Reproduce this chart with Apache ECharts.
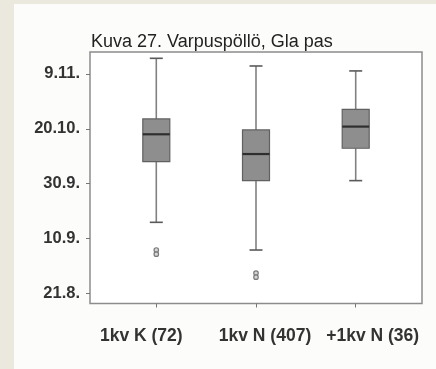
<!DOCTYPE html>
<html>
<head>
<meta charset="utf-8">
<script src="https://cdn.jsdelivr.net/npm/echarts@6/dist/echarts.min.js"></script>
<style>
  html, body { margin: 0; padding: 0; background: #ebe9dd; }
  #panel { position: absolute; left: 14px; top: 4px; width: 422px; height: 365px; background: #fcfcfa; }
  #chart { position: absolute; left: 0; top: 0; width: 436px; height: 369px; }
</style>
</head>
<body>
<div id="panel"></div>
<div id="chart"></div>
<script>
// Groups on the x axis
const categories = ['1kv K (72)', '1kv N (407)', '+1kv N (36)'];

// Box statistics per group, as day of year: [min, Q1, median, Q3, max]
const boxStats = [
  [258.9, 281.0, 291.0, 296.6, 318.7],
  [248.8, 274.1, 283.8, 292.6, 315.9],
  [274.1, 285.9, 293.8, 300.1, 314.1]
];

// Outliers per group (day of year)
const outliers = [
  [248.8, 247.3],
  [240.4, 238.9],
  []
];

// Date ticks on the y axis (day of year) and their labels
const tickValues = [233, 253, 273, 293, 313];
const tickLabels = ['21.8.', '10.9.', '30.9.', '20.10.', '9.11.'];

const FONT = "'Liberation Sans', Arial, sans-serif";

const boxData = boxStats.map((s, i) => [i + 1].concat(s));
const outlierData = [];
outliers.forEach((list, i) => list.forEach(v => outlierData.push([i + 1, v])));

// horizontal nudges of the group labels
const labelPad = [[0, 30, 0, 0], [0, 0, 0, 18], [0, 0, 0, 34]];
const richStyles = {};
labelPad.forEach((p, i) => {
  richStyles['c' + i] = { padding: p, fontFamily: FONT, fontSize: 17.5, fontWeight: 'bold', color: '#333' };
});

const chart = echarts.init(document.getElementById('chart'), null, { renderer: 'canvas' });

chart.setOption({
  animation: false,
  backgroundColor: 'transparent',
  title: {
    text: 'Kuva 27. Varpuspöllö, Gla pas',
    left: 91,
    top: 33,
    padding: 0,
    textStyle: { fontFamily: FONT, fontSize: 18, fontWeight: 'normal', color: '#222' }
  },
  grid: {
    left: 90, top: 52, width: 332, height: 251.5,
    show: true, borderColor: '#8c8c8c', borderWidth: 1.5, backgroundColor: '#ffffff'
  },
  xAxis: {
    type: 'value',
    min: 0.335, max: 3.665,
    axisLine: { show: false },
    splitLine: { show: false },
    axisTick: { show: true, customValues: [1, 2, 3], length: 4, lineStyle: { color: '#777', width: 1 } },
    axisLabel: {
      customValues: [1, 2, 3],
      margin: 24,
      fontFamily: FONT, fontSize: 17.5, fontWeight: 'bold', color: '#333',
      formatter: v => '{c' + (v - 1) + '|' + categories[v - 1] + '}',
      rich: richStyles
    }
  },
  yAxis: {
    type: 'value',
    min: 229.3, max: 321,
    axisLine: { show: false },
    splitLine: { show: false },
    axisTick: { show: true, customValues: tickValues, length: 4, lineStyle: { color: '#777', width: 1 } },
    axisLabel: {
      customValues: tickValues,
      margin: 10,
      fontFamily: FONT, fontSize: 16.5, fontWeight: 'bold', color: '#333',
      formatter: v => tickLabels[tickValues.indexOf(v)]
    }
  },
  series: [
    {
      type: 'custom',
      data: boxData,
      encode: { x: 0, y: [1, 2, 3, 4, 5] },
      z: 2,
      renderItem: function (params, api) {
        const x = api.value(0);
        const lo = api.coord([x, api.value(1)]);
        const q1 = api.coord([x, api.value(2)]);
        const md = api.coord([x, api.value(3)]);
        const q3 = api.coord([x, api.value(4)]);
        const hi = api.coord([x, api.value(5)]);
        const cx = lo[0];
        const hw = 13.5;
        const cap = 6.5;
        const whisker = { stroke: '#808080', lineWidth: 1.6 };
        const capStyle = { stroke: '#5a5a5a', lineWidth: 1.6 };
        return {
          type: 'group',
          children: [
            { type: 'line', shape: { x1: cx, y1: hi[1], x2: cx, y2: q3[1] }, style: whisker },
            { type: 'line', shape: { x1: cx, y1: q1[1], x2: cx, y2: lo[1] }, style: whisker },
            { type: 'line', shape: { x1: cx - cap, y1: hi[1], x2: cx + cap, y2: hi[1] }, style: capStyle },
            { type: 'line', shape: { x1: cx - cap, y1: lo[1], x2: cx + cap, y2: lo[1] }, style: capStyle },
            { type: 'rect', shape: { x: cx - hw, y: q3[1], width: hw * 2, height: q1[1] - q3[1] },
              style: { fill: '#8e8e8e', stroke: '#606060', lineWidth: 1.2 } },
            { type: 'line', shape: { x1: cx - hw, y1: md[1], x2: cx + hw, y2: md[1] },
              style: { stroke: '#2e2e2e', lineWidth: 2.2 } }
          ]
        };
      }
    },
    {
      type: 'scatter',
      data: outlierData,
      z: 3,
      symbol: 'circle',
      symbolSize: 4.5,
      itemStyle: { color: '#d6d6d6', borderColor: '#7a7a7a', borderWidth: 1.2, opacity: 1 }
    }
  ]
});
</script>
</body>
</html>
